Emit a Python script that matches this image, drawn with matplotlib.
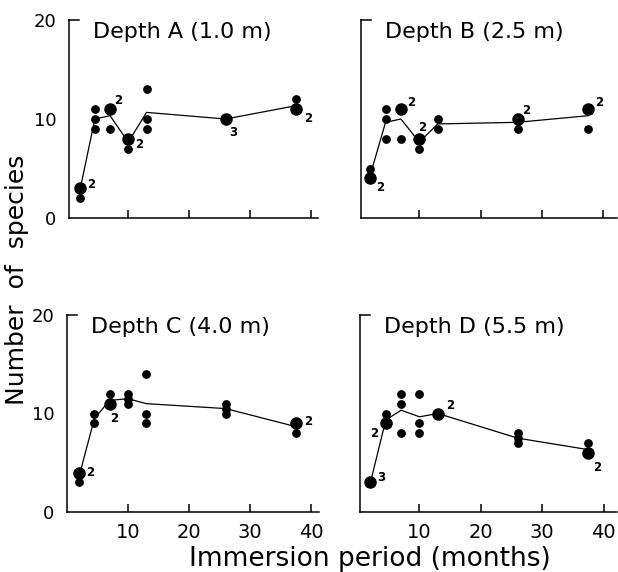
import numpy as np
import matplotlib
matplotlib.use("Agg")
import matplotlib.pyplot as plt

plt.rcParams['font.family'] = ['DejaVu Sans']

# immersion period (months) and species counts of the replicate panels
months = [2, 4.5, 7, 10, 13, 26, 37.5]
depth_a = [[3, 3, 2], [11, 10, 9], [11, 11, 9], [8, 8, 7], [13, 10, 9], [10, 10, 10], [12, 11, 11]]
depth_b = [[5, 4, 4], [11, 10, 8], [11, 11, 8], [8, 8, 7], [10, 9], [10, 10, 9], [11, 11, 9]]
depth_c = [[4, 4, 3], [10, 9], [12, 11, 11], [12, 11.5, 11], [14, 10, 9], [11, 10.5, 10], [9, 9, 8]]
depth_d = [[3, 3, 3], [10, 9, 9], [12, 11, 8], [12, 9, 8], [10, 10], [8, 7.5, 7], [7, 6, 6]]
titles = ["Depth A (1.0 m)", "Depth B (2.5 m)", "Depth C (4.0 m)", "Depth D (5.5 m)"]

# where the overlap counts sit next to the big dots (pixels)
label_offsets = [
    {0: (12, 4), 2: (8, 9), 3: (11, -6), 5: (8, -13), 6: (13, -9)},
    {0: (10, -9), 2: (10, 7), 3: (3, 11), 5: (9, 9), 6: (11, 7)},
    {0: (11, 0), 2: (4, -15), 6: (12, 2)},
    {0: (11, 5), 1: (-12, -10), 4: (12, 8), 6: (9, -15)},
]

W, H = 618, 572
fig = plt.figure(figsize=(W / 100, H / 100), dpi=100)
# left, bottom(px from top), width, height in pixels, plus x range of each panel
boxes = [(69, 218, 249, 198), (361, 218, 256, 198), (67, 512, 252, 197), (360, 512, 257, 197)]
xlims = [(0.25, 41.2), (0.5, 42.2), (0, 41.3), (0.3, 42.2)]
panels = [depth_a, depth_b, depth_c, depth_d]

for i, (vals, title, box) in enumerate(zip(panels, titles, boxes)):
    l, b, w, h = box
    ax = fig.add_axes([l / W, (H - b) / H, w / W, h / H])
    means = [np.mean(v) for v in vals]
    ax.plot(months, means, color='black', lw=0.9, zorder=1)
    for j, (m, v) in enumerate(zip(months, vals)):
        uv, cnt = np.unique(v, return_counts=True)
        for y, c in zip(uv, cnt):
            if c > 1:
                ax.plot(m, y, 'o', color='black', ms=8, zorder=3)
                dx, dy = label_offsets[i].get(j, (10, 6))
                ax.annotate(str(c), (m, y), xytext=(dx, dy), textcoords='offset pixels',
                            ha='center', va='center', fontsize=8.5, fontweight='bold')
            else:
                ax.plot(m, y, 'o', color='black', ms=5.3, zorder=3)

    ax.set_xlim(*xlims[i])
    ax.set_ylim(0, 20)
    for s in ['top', 'right']:
        ax.spines[s].set_visible(False)
    for s in ['left', 'bottom']:
        ax.spines[s].set_linewidth(1.1)

    ax.set_xticks([10, 20, 30, 40])
    ax.tick_params(axis='x', direction='in', length=6, width=1.1, pad=8, labelsize=14)
    ax.set_yticks([0, 10, 20])
    ax.tick_params(axis='y', which='major', length=0, pad=9, labelsize=13)
    ax.set_yticks([10], minor=True)
    ax.tick_params(axis='y', which='minor', direction='out', length=6, width=1.1)
    ax.axhline(20, xmin=0, xmax=0.04, color='black', lw=1.1, clip_on=False)

    if i in (0, 1):
        ax.tick_params(axis='x', labelbottom=False)
    if i in (1, 3):
        ax.tick_params(axis='y', labelleft=False)

    ax.text(0.095, 0.94, title, transform=ax.transAxes, ha='left', va='center', fontsize=16)

fig.text(17 / W, 1 - 280 / H, "Number  of  species", rotation=90, ha='center', va='center', fontsize=18)
fig.text(370 / W, 1 - 559 / H, "Immersion period (months)", ha='center', va='center', fontsize=19)

fig.savefig("out.png", dpi=100)
